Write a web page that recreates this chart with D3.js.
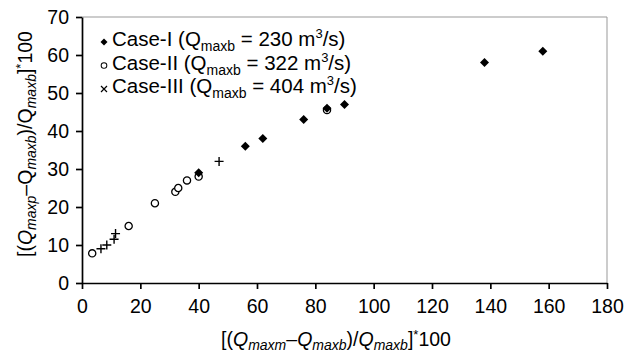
<!DOCTYPE html>
<html>
<head>
<meta charset="utf-8">
<script src="https://cdn.jsdelivr.net/npm/d3@7"></script>
<style>
  body { margin: 0; background: #fff; }
  svg { font-family: "Liberation Sans", Arial, sans-serif; }
</style>
</head>
<body>
<div class="chart"></div>
<script>
const case1X = [40, 56, 62, 76, 84, 90, 138, 158];
const case1Y = [29, 36, 38, 43, 46, 47, 58, 61];
const case2X = [3.5, 16, 25, 32, 33, 36, 40, 84];
const case2Y = [7.8, 15, 21, 24, 25, 27, 28, 45.5];
const case3X = [6.5, 8.5, 11, 11.5, 47];
const case3Y = [9, 10, 11.5, 13, 32];
const xTicks = [0, 20, 40, 60, 80, 100, 120, 140, 160, 180];
const yTicks = [0, 10, 20, 30, 40, 50, 60, 70];
const legendItems = [
  { name: 'Case-I', q: '230', sym: 'diamond' },
  { name: 'Case-II', q: '322', sym: 'circle' },
  { name: 'Case-III', q: '404', sym: 'x' },
];

const width = 624, height = 353;
const margin = { left: 82, right: 17, top: 17, bottom: 70 };
const fs = 19.5;

const svg = d3.select('.chart').append('svg')
  .attr('width', width).attr('height', height);

const x = d3.scaleLinear().domain([0, 180]).range([margin.left, width - margin.right]);
const y = d3.scaleLinear().domain([0, 70]).range([height - margin.bottom, margin.top]);

// frame (top/right in gray)
svg.append('path')
  .attr('d', `M${x(0)},${y(70)}H${x(180)}V${y(0)}`)
  .attr('fill', 'none').attr('stroke', '#999').attr('stroke-width', 1);

const xAxis = svg.append('g')
  .attr('transform', `translate(0,${y(0)})`)
  .call(d3.axisBottom(x).tickValues(xTicks).tickSize(6).tickSizeOuter(0));
const yAxis = svg.append('g')
  .attr('transform', `translate(${x(0)},0)`)
  .call(d3.axisLeft(y).tickValues(yTicks).tickSize(6).tickSizeOuter(0));

[xAxis, yAxis].forEach(a => {
  a.selectAll('path, line').attr('stroke', '#000').attr('stroke-width', 1.7);
  a.selectAll('text').attr('font-size', fs).attr('fill', '#000')
    .attr('font-family', '"Liberation Sans", Arial, sans-serif');
});
xAxis.selectAll('text').attr('y', 30).attr('dy', 0);
yAxis.selectAll('text').attr('x', -13);

// markers
function drawSym(g, sym) {
  if (sym === 'diamond') {
    g.append('path').attr('d', 'M0,-4.5L4.5,0L0,4.5L-4.5,0Z').attr('fill', '#000');
  } else if (sym === 'circle') {
    g.append('circle').attr('r', 3.6).attr('fill', '#fff').attr('stroke', '#000').attr('stroke-width', 1.3);
  } else if (sym === 'plus') {
    g.append('path').attr('d', 'M-4.5,0H4.5M0,-4.5V4.5').attr('stroke', '#000').attr('stroke-width', 1.4);
  } else {
    g.append('path').attr('d', 'M-3,-3L3,3M3,-3L-3,3').attr('stroke', '#000').attr('stroke-width', 1.2);
  }
}

const series = [
  { xs: case2X, ys: case2Y, sym: 'circle' },
  { xs: case3X, ys: case3Y, sym: 'plus' },
  { xs: case1X, ys: case1Y, sym: 'diamond' },
];
series.forEach(s => {
  s.xs.forEach((v, i) => {
    const g = svg.append('g').attr('transform', `translate(${x(v)},${y(s.ys[i])})`);
    drawSym(g, s.sym);
  });
});

// legend
const leg = svg.append('g').attr('font-size', 20.5);
legendItems.forEach((d, i) => {
  const ly = 46 + i * 23.5;
  const g = leg.append('g').attr('transform', `translate(104,${ly - 4})`);
  drawSym(g, d.sym);
  if (d.sym !== 'x') g.attr('transform', `translate(104,${ly - 4}) scale(0.78)`);
  const t = leg.append('text').attr('x', 112).attr('y', ly);
  t.append('tspan').text(`${d.name} (Q`);
  t.append('tspan').attr('font-size', 14).attr('dy', 5).text('maxb');
  t.append('tspan').attr('dy', -5).text(` = ${d.q} m`);
  t.append('tspan').attr('font-size', 13).attr('dy', -8).text('3');
  t.append('tspan').attr('dy', 8).text('/s)');
});

// axis titles
const xt = svg.append('text').attr('x', 336).attr('y', 346)
  .attr('text-anchor', 'middle').attr('font-size', fs);
xt.append('tspan').text('[(');
xt.append('tspan').attr('font-style', 'italic').text('Q');
xt.append('tspan').attr('font-style', 'italic').attr('font-size', 14).attr('dy', 4).text('maxm');
xt.append('tspan').attr('dy', -4).text('\u2013');
xt.append('tspan').attr('font-style', 'italic').text('Q');
xt.append('tspan').attr('font-style', 'italic').attr('font-size', 14).attr('dy', 4).text('maxb');
xt.append('tspan').attr('dy', -4).text(')/');
xt.append('tspan').attr('font-style', 'italic').text('Q');
xt.append('tspan').attr('font-style', 'italic').attr('font-size', 14).attr('dy', 4).text('maxb');
xt.append('tspan').attr('dy', -4).text(']');
xt.append('tspan').attr('font-size', 13).attr('dy', -7).text('*');
xt.append('tspan').attr('dy', 7).text('100');

const yt = svg.append('text').attr('transform', 'translate(32,144) rotate(-90)')
  .attr('text-anchor', 'middle').attr('font-size', fs);
yt.append('tspan').text('[(');
yt.append('tspan').attr('font-style', 'italic').text('Q');
yt.append('tspan').attr('font-style', 'italic').attr('font-size', 14).attr('dy', 4).text('maxp');
yt.append('tspan').attr('dy', -4).text('\u2013');
yt.append('tspan').text('Q');
yt.append('tspan').attr('font-style', 'italic').attr('font-size', 14).attr('dy', 4).text('maxb');
yt.append('tspan').attr('dy', -4).text(')/Q');
yt.append('tspan').attr('font-style', 'italic').attr('font-size', 14).attr('dy', 4).text('maxb');
yt.append('tspan').attr('dy', -4).text(']');
yt.append('tspan').attr('font-size', 13).attr('dy', -7).text('*');
yt.append('tspan').attr('dy', 7).text('100');
</script>
</body>
</html>
